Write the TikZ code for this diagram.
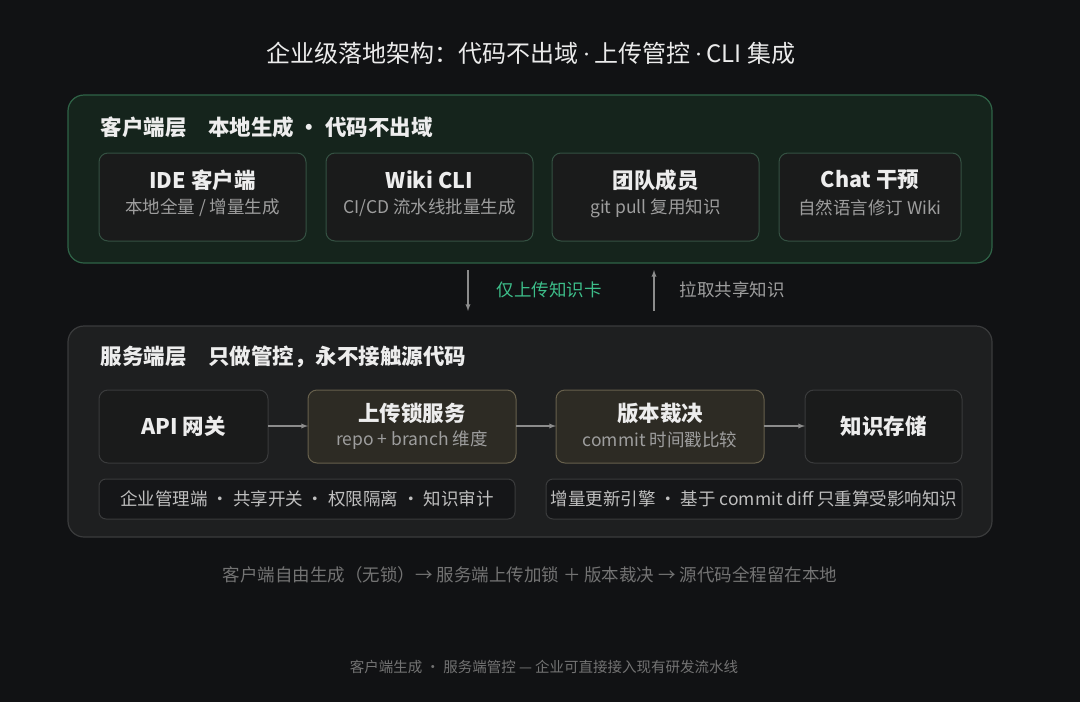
\documentclass[tikz,border=0pt]{standalone}
\usepackage{fontspec}
\setmainfont{Noto Sans CJK SC}
\newfontfamily\latinfont{Liberation Serif}
\usetikzlibrary{positioning}
\definecolor{bgc}{HTML}{111214}
\definecolor{topfill}{HTML}{15241C}
\definecolor{topline}{HTML}{2F6347}
\definecolor{botfill}{HTML}{1E1F20}
\definecolor{botline}{HTML}{3A3B3C}
\definecolor{cardfill}{HTML}{1A1B1B}
\definecolor{lockfill}{HTML}{2D2B24}
\definecolor{lockline}{HTML}{67604C}
\definecolor{mint}{HTML}{3DBE8A}
\tikzset{
  px/.style={x=1pt,y=-1pt},
  card/.style={draw=#1, line width=1pt, rounded corners=9pt, fill=cardfill},
  card/.default=botline,
  ttl/.style={font=\fontsize{21.5}{23}\selectfont\bfseries, text=white!93!black},
  sub/.style={font=\fontsize{17.5}{19}\selectfont, text=white!62!black},
  hdr/.style={font=\fontsize{21.5}{23}\selectfont\bfseries, text=white!93!black, anchor=west},
  flow/.style={->, >=latex, draw=white!55!black, line width=1.3pt}
}
\newcommand\mdot{{\latinfont\,·\,}}
\begin{document}
\begin{tikzpicture}[px]
    \fill[bgc] (0,0) rectangle (1080,702);
    \useasboundingbox (0,0) rectangle (1080,702);
    % title
    \node[font=\fontsize{24}{26}\selectfont, text=white!92!black] (title) at (531,53) {企业级落地架构：代码不出域\mdot 上传管控\mdot CLI 集成};
    % client layer
    \draw[topline, fill=topfill, line width=1.2pt, rounded corners=16pt] (68,95) rectangle (992,263);
    \node[hdr] (chead) at (97,127) {客户端层\quad 本地生成 · 代码不出域};
    \draw[card=topline!55!botline] (99,153) rectangle (306,241);
    \draw[card=topline!55!botline] (326,153) rectangle (533,241);
    \draw[card=topline!55!botline] (552,153) rectangle (759,241);
    \draw[card=topline!55!botline] (779,153) rectangle (961,241);
    \node[ttl] (ide) at (202.5,180) {IDE 客户端};
    \node[sub] (ides) at (202.5,208) {本地全量 / 增量生成};
    \node[ttl] (cli) at (429.5,180) {Wiki CLI};
    \node[sub] (clis) at (429.5,208) {CI/CD 流水线批量生成};
    \node[ttl] (team) at (655.5,180) {团队成员};
    \node[sub] (teams) at (655.5,208) {git pull 复用知识};
    \node[ttl] (chat) at (870,180) {Chat 干预};
    \node[sub] (chats) at (870,208) {自然语言修订 Wiki};
    % between layers
    \coordinate (d1) at (468,270);
    \coordinate (d2) at (468,311);
    \coordinate (u1) at (654,311);
    \coordinate (u2) at (654,270);
    \draw[flow] (d1) -- (d2);
    \draw[flow] (u1) -- (u2);
    \node[sub, text=mint] (upl) at (549,290) {仅上传知识卡};
    \node[sub] (pull) at (732,290) {拉取共享知识};
    % server layer
    \draw[botline, fill=botfill, line width=1.2pt, rounded corners=16pt] (68,326) rectangle (992,537);
    \node[hdr] (shead) at (97,357) {服务端层\quad 只做管控，永不接触源代码};
    \draw[card] (99,390) rectangle (268,463);
    \draw[card=lockline, fill=lockfill] (308,390) rectangle (516,463);
    \draw[card=lockline, fill=lockfill] (556,390) rectangle (764,463);
    \draw[card] (805,390) rectangle (962,463);
    \node[ttl] (api) at (183.5,426) {API 网关};
    \node[ttl] (lock) at (412,413) {上传锁服务};
    \node[sub] (locks) at (412,440) {repo + branch 维度};
    \node[ttl] (ver) at (660,413) {版本裁决};
    \node[sub] (vers) at (660,440) {commit 时间戳比较};
    \node[ttl] (store) at (883.5,426) {知识存储};
    \coordinate (a1) at (268,426); \coordinate (a2) at (308,426);
    \coordinate (b1) at (516,426); \coordinate (b2) at (556,426);
    \coordinate (c1) at (764,426); \coordinate (c2) at (805,426);
    \draw[flow] (a1) -- (a2);
    \draw[flow] (b1) -- (b2);
    \draw[flow] (c1) -- (c2);
    \draw[card, fill=bgc!70!botfill, rounded corners=7pt] (99,479) rectangle (515,519);
    \draw[card, fill=bgc!70!botfill, rounded corners=7pt] (546,479) rectangle (962,519);
    \node[sub, text=white!75!black] (admin) at (307,499) {企业管理端 · 共享开关 · 权限隔离 · 知识审计};
    \node[sub, text=white!75!black] (incr) at (754,499) {增量更新引擎 · 基于 commit diff 只重算受影响知识};
    % captions
    \node[sub, text=white!45!black] (cap) at (530,575) {客户端自由生成（无锁）→ 服务端上传加锁 ＋ 版本裁决 → 源代码全程留在本地};
    \node[font=\fontsize{14.5}{16}\selectfont, text=white!45!black] (foot) at (544,667) {客户端生成 · 服务端管控 — 企业可直接接入现有研发流水线};
\end{tikzpicture}
\end{document}
